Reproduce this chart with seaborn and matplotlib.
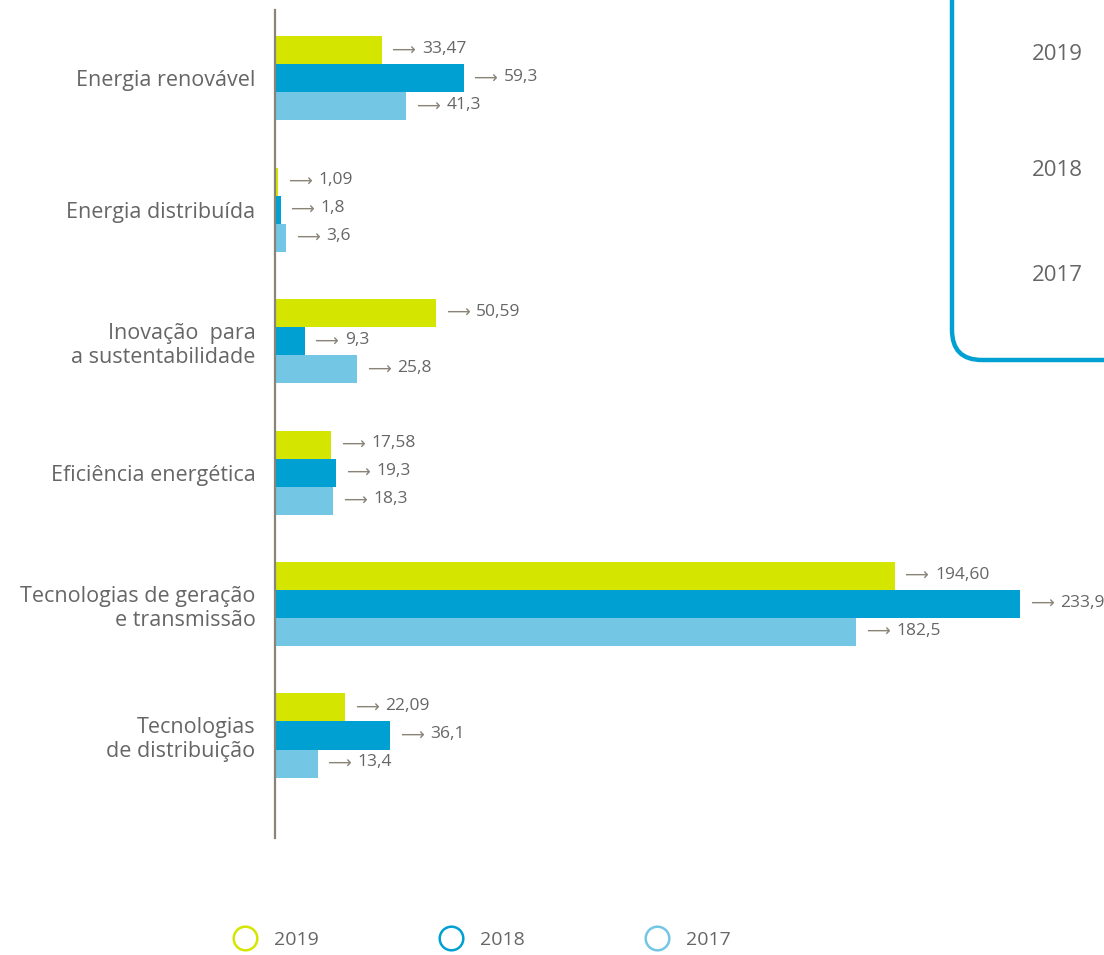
import pandas as pd
import seaborn as sns
from matplotlib import pyplot as plt
from matplotlib.lines import Line2D
from matplotlib.patches import FancyBboxPatch

categories = [
    "Energia renovável",
    "Energia distribuída",
    "Inovação  para\na sustentabilidade",
    "Eficiência energética",
    "Tecnologias de geração\ne transmissão",
    "Tecnologias\nde distribuição",
]
years = ["2019", "2018", "2017"]
values_2019 = [33.47, 1.09, 50.59, 17.58, 194.60, 22.09]
values_2018 = [59.3, 1.8, 9.3, 19.3, 233.9, 36.1]
values_2017 = [41.3, 3.6, 25.8, 18.3, 182.5, 13.4]
decimals = {"2019": 2, "2018": 1, "2017": 1}
colors = ["#d4e600", "#00a0d3", "#74c7e4"]

TEXT = "#666666"
ARROW = "#8a8378"


def main() -> int:
    df = pd.DataFrame({
        "categoria": categories * 3,
        "ano": [y for y in years for _ in categories],
        "valor": values_2019 + values_2018 + values_2017,
    })

    sns.set_style("white")
    plt.rcParams["font.family"] = ["Open Sans", "DejaVu Sans"]

    fig = plt.figure(figsize=(11.04, 9.55), dpi=100)
    ax = fig.add_axes([0.249, 0.1225, 0.751, 0.867])

    sns.barplot(data=df, y="categoria", x="valor", hue="ano",
                hue_order=years, palette=colors, orient="h",
                width=0.64, saturation=1, linewidth=0, legend=False, ax=ax)

    ax.set_xlim(0, 260.3)
    ax.set_ylim(5.78, -0.52)
    ax.set_xlabel("")
    ax.set_ylabel("")
    ax.set_xticks([])
    ax.tick_params(axis="y", length=0, pad=14, labelsize=15.5, labelcolor=TEXT)
    for side in ["top", "right", "bottom"]:
        ax.spines[side].set_visible(False)
    ax.spines["left"].set_color(ARROW)
    ax.spines["left"].set_linewidth(1.6)

    # value labels with arrow
    for year, cont in zip(years, ax.containers):
        for bar in cont:
            w = bar.get_width()
            yc = bar.get_y() + bar.get_height() / 2
            txt = f"{w:.{decimals[year]}f}".replace(".", ",")
            ax.annotate("⟶", (w, yc), xytext=(7, 0), textcoords="offset points",
                        ha="left", va="center", fontsize=12, color=ARROW,
                        family=["DejaVu Sans"])
            ax.annotate(txt, (w, yc), xytext=(29, 1), textcoords="offset points",
                        ha="left", va="center", fontsize=12.5, color=TEXT)

    # partial box on the right
    box = FancyBboxPatch((9.52, 5.95), 3.0, 5.0,
                         boxstyle="round,pad=0,rounding_size=0.3",
                         transform=fig.dpi_scale_trans, fill=False,
                         edgecolor="#00a0d3", linewidth=3.2, clip_on=False)
    fig.patches.append(box)
    for label, ypx in zip(years, [55, 170, 275]):
        fig.text(1057 / 1104, 1 - ypx / 955, label, ha="center", va="center",
                 fontsize=16, color=TEXT)

    handles = [Line2D([], [], marker="o", linestyle="none", markersize=17,
                      markerfacecolor="none", markeredgecolor=c,
                      markeredgewidth=1.8) for c in colors]
    fig.legend(handles, years, loc="center", bbox_to_anchor=(0.433, 0.016),
               ncol=3, frameon=False, fontsize=14, labelcolor=TEXT,
               columnspacing=5.8, handletextpad=0.5)

    fig.savefig("out.png", dpi=100)
    return 0


if __name__ == "__main__":
    raise SystemExit(main())
